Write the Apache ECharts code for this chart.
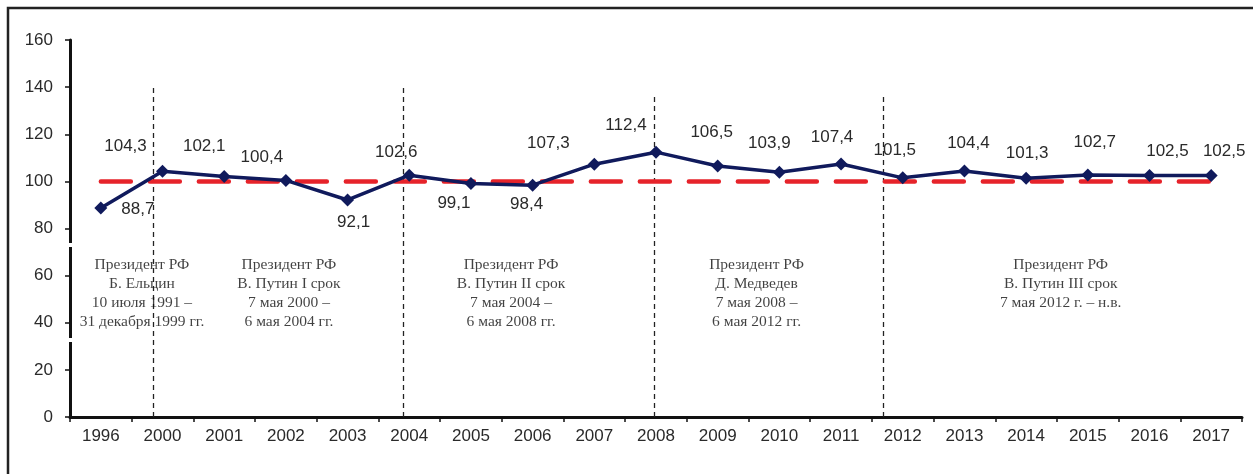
<!DOCTYPE html>
<html>
<head>
<meta charset="utf-8">
<script src="https://cdn.jsdelivr.net/npm/echarts@6/dist/echarts.min.js"></script>
<style>
html,body{margin:0;padding:0;background:#fff;}
#c{width:1253px;height:474px;}
</style>
</head>
<body>
<div id="c"></div>
<script>
// ---- data ----
const years = ['1996','2000','2001','2002','2003','2004','2005','2006','2007','2008','2009','2010','2011','2012','2013','2014','2015','2016','2017'];
const values = [88.7,104.3,102.1,100.4,92.1,102.6,99.1,98.4,107.3,112.4,106.5,103.9,107.4,101.5,104.4,101.3,102.7,102.5,102.5];
const baseline = 100;
const yMin = 0, yMax = 160, yStep = 20;
const terms = [
  'Президент РФ\nБ. Ельцин\n10 июля 1991 –\n31 декабря 1999 гг.',
  'Президент РФ\nВ. Путин I срок\n7 мая 2000 –\n6 мая 2004 гг.',
  'Президент РФ\nВ. Путин II срок\n7 мая 2004 –\n6 мая 2008 гг.',
  'Президент РФ\nД. Медведев\n7 мая 2008 –\n6 мая 2012 гг.',
  'Президент РФ\nВ. Путин III срок\n7 мая 2012 г. – н.в.'
];
const termStartYears = ['2000','2004','2008','2012'];

// ---- layout (positions in axis units, offsets in px) ----
const dividerShift = [-0.155, -0.103, -0.035, -0.323];
const dividerTop = [140, 140, 137.5, 137.5];
const termX = [0.667, 3.05, 6.65, 10.63, 15.56];
const termTop = 68.5;
const labelOffsets = [[37,1],[-37,-25],[-20,-30],[-24,-23],[6,22],[-13,-23],[-17,20],[-6,19],[-46,-21],[-30,-27],[-6,-34],[-10,-29],[-9,-27],[-8,-28],[4,-28],[1,-25],[7,-33],[18,-24],[13,-24]];

const NAVY = '#101a5c';
const RED = '#e6232a';
const TXT = '#2a2a2a';
const SANS = '"Liberation Sans", Arial, sans-serif';
const SERIF = '"Liberation Serif", "Times New Roman", serif';

const fmt = v => v.toFixed(1).replace('.', ',');

const chart = echarts.init(document.getElementById('c'), null, {renderer: 'canvas'});

const mainData = values.map((v, i) => ({
  value: v,
  label: { offset: labelOffsets[i] }
}));

const dividerData = termStartYears.map((y, i) => {
  const x = years.indexOf(y) + dividerShift[i];
  return { coords: [[x, yMin], [x, dividerTop[i]]] };
});

const termData = terms.map((t, i) => ({ value: [termX[i], termTop], name: t }));

chart.setOption({
  animation: false,
  backgroundColor: '#fff',
  grid: { left: 70, right: 11, top: 40, bottom: 57, containLabel: false },
  xAxis: [
    {
      type: 'category',
      data: years,
      boundaryGap: true,
      axisLine: { show: true, onZero: false, lineStyle: { color: '#111', width: 3 } },
      axisTick: { show: true, length: 5, alignWithLabel: false, lineStyle: { color: '#111', width: 1.5 } },
      axisLabel: { fontSize: 17, color: TXT, fontFamily: SANS, margin: 11, interval: 0 },
      splitLine: { show: false }
    },
    {
      type: 'value',
      min: -0.5,
      max: years.length - 0.5,
      show: false,
      axisLine: { onZero: false }
    }
  ],
  yAxis: {
    type: 'value',
    min: yMin, max: yMax, interval: yStep,
    axisLine: { show: true, onZero: false, lineStyle: { color: '#111', width: 3 } },
    axisTick: { show: true, length: 5, lineStyle: { color: '#111', width: 1.5 } },
    axisLabel: { fontSize: 17, color: TXT, fontFamily: SANS, margin: 17 },
    splitLine: { show: false }
  },
  graphic: [
    {
      type: 'rect',
      shape: { x: 8, y: 8, width: 1270, height: 500 },
      style: { fill: 'none', stroke: '#222', lineWidth: 2.5 },
      silent: true,
      z: 100
    },
    {
      type: 'rect',
      shape: { x: 67, y: 243, width: 6, height: 4 },
      style: { fill: '#fff' },
      silent: true,
      z: 100
    },
    {
      type: 'rect',
      shape: { x: 67, y: 338, width: 6, height: 4 },
      style: { fill: '#fff' },
      silent: true,
      z: 100
    }
  ],
  series: [
    {
      name: 'norm',
      type: 'lines',
      coordinateSystem: 'cartesian2d',
      xAxisIndex: 1,
      yAxisIndex: 0,
      silent: true,
      z: 2,
      lineStyle: { color: RED, width: 4.5, type: [30, 19], cap: 'round', opacity: 1 },
      data: [{ coords: [[0, baseline], [years.length - 1, baseline]] }]
    },
    {
      name: 'dividers',
      type: 'lines',
      coordinateSystem: 'cartesian2d',
      xAxisIndex: 1,
      yAxisIndex: 0,
      silent: true,
      z: 1,
      lineStyle: { color: '#222', width: 1.3, type: [5, 4], opacity: 1 },
      data: dividerData
    },
    {
      name: 'terms',
      type: 'scatter',
      xAxisIndex: 1,
      yAxisIndex: 0,
      silent: true,
      symbolSize: 0,
      itemStyle: { color: 'transparent' },
      z: 1,
      label: {
        show: true,
        position: 'inside',
        align: 'center',
        verticalAlign: 'top',
        formatter: p => p.name,
        fontFamily: SERIF,
        fontSize: 15.5,
        lineHeight: 19,
        color: '#111'
      },
      data: termData
    },
    {
      name: 'index',
      type: 'line',
      xAxisIndex: 0,
      yAxisIndex: 0,
      z: 5,
      silent: true,
      symbol: 'diamond',
      symbolSize: 13,
      lineStyle: { color: NAVY, width: 3.5 },
      itemStyle: { color: NAVY },
      label: {
        show: true,
        position: 'inside',
        align: 'center',
        verticalAlign: 'middle',
        fontSize: 17,
        fontFamily: SANS,
        color: TXT,
        formatter: p => fmt(p.value)
      },
      data: mainData
    }
  ]
});
</script>
</body>
</html>
